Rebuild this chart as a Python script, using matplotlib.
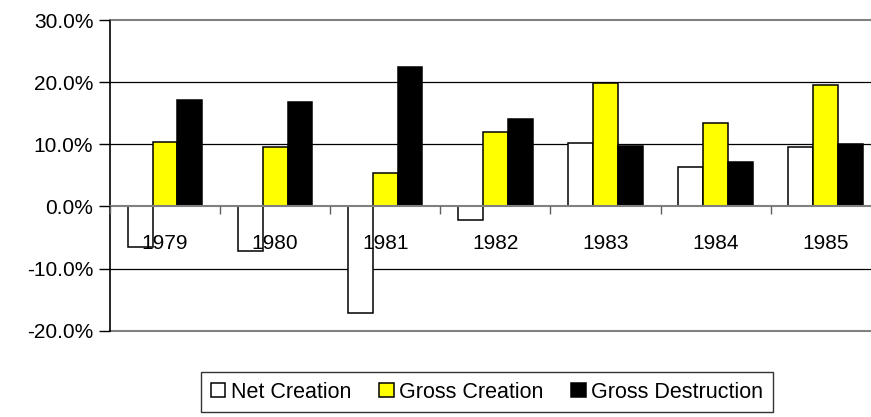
import numpy as np
import matplotlib
matplotlib.use("Agg")
import matplotlib.pyplot as plt
from matplotlib.ticker import FuncFormatter, MultipleLocator

plt.rcParams['font.family'] = ['Liberation Sans', 'DejaVu Sans']

###--- Data (percent)
years = ['1979', '1980', '1981', '1982', '1983', '1984', '1985']
net_creation = [-6.6, -7.2, -17.1, -2.2, 10.2, 6.4, 9.5]
gross_creation = [10.4, 9.6, 5.4, 11.9, 19.8, 13.4, 19.6]
gross_destruction = [17.1, 16.8, 22.5, 14.0, 9.7, 7.2, 10.0]

series_names = ['Net Creation', 'Gross Creation', 'Gross Destruction']
series_colors = ['white', '#FFFF00', 'black']

###--- Figure
fig = plt.figure(figsize=(8.71, 4.17), dpi=100)
ax = fig.add_axes([110/871, 86.3/417, 770.7/871, 310.7/417])
ax.set_axisbelow(False)  # year labels are drawn over the bars

xx = np.arange(len(years))
width = 0.225
offsets = [-width, 0, width]
for vals, name, col, off in zip([net_creation, gross_creation, gross_destruction],
                                series_names, series_colors, offsets):
    ax.bar(xx + off, vals, width, color=col, edgecolor='black', linewidth=1.1,
           label=name, zorder=2)

ax.set_xlim(-0.5, len(years) - 0.5)
ax.set_ylim(-20, 30)

# gridlines inside the plot area
for yv in [-10, 10, 20]:
    ax.axhline(yv, color='black', linewidth=0.9, zorder=1)
ax.axhline(-20, color='#808080', linewidth=1.5, zorder=1, clip_on=False)

# y axis
ax.yaxis.set_major_locator(MultipleLocator(10))
ax.yaxis.set_major_formatter(FuncFormatter(lambda v, p: f"{v:.1f}%"))
ax.tick_params(axis='y', direction='out', length=8, width=1, labelsize=15, pad=4)

# category axis sits on the zero line
ax.spines['bottom'].set_position(('data', 0))
ax.spines['bottom'].set_color('#808080')
ax.spines['bottom'].set_linewidth(1.5)
ax.spines['top'].set_color('#808080')
ax.spines['top'].set_linewidth(1.5)
ax.spines['right'].set_visible(False)
ax.spines['left'].set_color('black')
ax.spines['left'].set_linewidth(1.2)

ax.set_xticks(xx)
ax.set_xticklabels(years)
ax.set_xticks(np.arange(len(years) + 1) - 0.5, minor=True)
ax.tick_params(axis='x', which='major', length=0, labelsize=15, pad=20)
ax.tick_params(axis='x', which='minor', direction='out', length=6, width=1, color='#606060')

leg = fig.legend(loc='center', bbox_to_anchor=(487/871, 25/417), ncol=3, fontsize=15.5,
                 frameon=True, fancybox=False, edgecolor='black', handlelength=0.68,
                 handleheight=0.68, handletextpad=0.25, columnspacing=1.3,
                 borderpad=0.45, borderaxespad=0)
leg.get_frame().set_linewidth(1.0)

fig.savefig("out.png", dpi=100)
